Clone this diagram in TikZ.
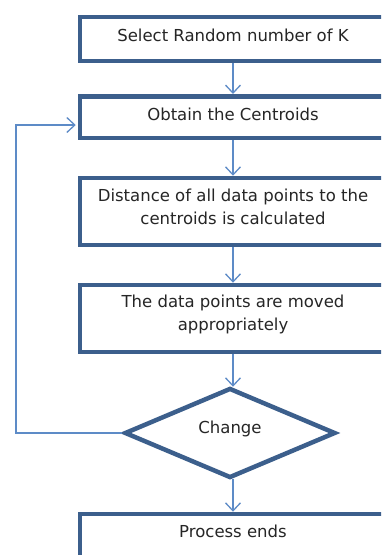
\documentclass[tikz,border=0pt]{standalone}
\usepackage{fontspec}
\setmainfont{DejaVu Sans}
\usetikzlibrary{arrows.meta,shapes.geometric}
\definecolor{boxline}{HTML}{3C5F8C}
\definecolor{arrowline}{HTML}{5D8BC7}
\tikzset{
  stepbox/.style={draw=boxline, line width=4.5pt, fill=white, minimum width=306pt, inner sep=0pt},
  decide/.style={draw=boxline, line width=4.5pt, fill=white, diamond, aspect=2.35, minimum width=211pt, minimum height=90pt, inner sep=0pt},
  txt/.style={font=\fontsize{16.5}{22.5}\selectfont, align=center, inner sep=0pt, text=black!85},
  flow/.style={draw=arrowline, line width=1.3pt, -{Straight Barb[length=8pt,width=15pt,line width=1.3pt]}},
  plain/.style={draw=arrowline, line width=1.3pt}
}
\begin{document}
\begin{tikzpicture}[x=1pt,y=-1pt]
\useasboundingbox (0,0) rectangle (381,555);
\clip (0,0) rectangle (381,555);
\coordinate (ax) at (233,0);
\node[stepbox, minimum height=44pt] (b1) at (233,39) {};
\node[stepbox, minimum height=41.5pt] (b2) at (233,117) {};
\node[stepbox, minimum height=67pt] (b3) at (233,211.5) {};
\node[stepbox, minimum height=67pt] (b4) at (233,318.5) {};
\node[decide] (d) at (230,433) {};
\node[stepbox, minimum height=60pt] (b5) at (233,544) {};
\node[txt] (t1) at (233,35) {Select Random number of K};
\node[txt] (t2) at (233,114) {Obtain the Centroids};
\node[txt] (t3) at (233,207) {Distance of all data points to the\\centroids is calculated};
\node[txt] (t4) at (233,314.5) {The data points are moved\\appropriately};
\node[txt] (t5) at (230,429) {Change};
\node[txt] (t6) at (233,531) {Process ends};
\coordinate (lx) at (16,0);
\coordinate (ly) at (0,125);
\draw[flow] (b1.south -| ax) -- (b2.north -| ax);
\draw[flow] (b2.south -| ax) -- (b3.north -| ax);
\draw[flow] (b3.south -| ax) -- (b4.north -| ax);
\draw[flow] (b4.south -| ax) -- ([yshift=-1pt]d.north -| ax);
\draw[flow] ([yshift=1pt]d.south -| ax) -- (b5.north -| ax);
\draw[flow] (d.west) -- (d.west -| lx) -- (lx |- ly) -- ([xshift=-2pt]b2.west |- ly);
\end{tikzpicture}
\end{document}
